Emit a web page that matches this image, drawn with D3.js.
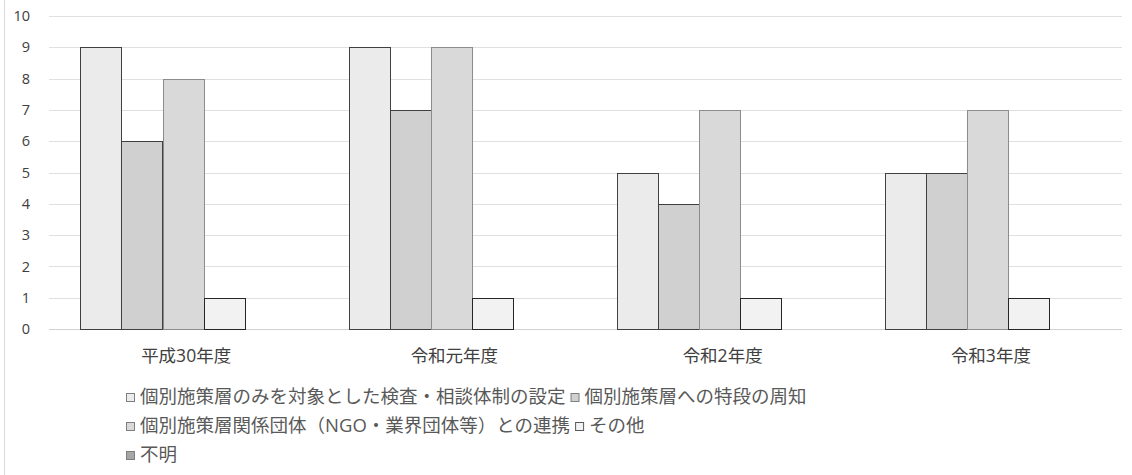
<!DOCTYPE html>
<html><head><meta charset="utf-8">
<script src="https://cdn.jsdelivr.net/npm/d3@7"></script>
<style>body{margin:0;background:#fff;} text{font-family:"Open Sans","Noto Sans CJK JP",sans-serif;}</style>
</head><body><svg id="c" width="1132" height="475"></svg>
<script>
const categories = ["平成30年度","令和元年度","令和2年度","令和3年度"];
const seriesNames = ["個別施策層のみを対象とした検査・相談体制の設定","個別施策層への特段の周知","個別施策層関係団体（NGO・業界団体等）との連携","その他","不明"];
const s1 = [9,9,5,5];
const s2 = [6,7,4,5];
const s3 = [8,9,7,7];
const s4 = [1,1,1,1];
const s5 = [0,0,0,0];
const yTicks = [0,1,2,3,4,5,6,7,8,9,10];
const fills = ["#ebebeb","#d0d0d0","#d9d9d9","#f2f2f2","#a6a6a6"];
const strokes = ["#404040","#404040","#8c8c8c","#262626","#595959"];
const series = [s1,s2,s3,s4,s5];

const svg = d3.select("#c");
svg.append("line").attr("x1",4.5).attr("x2",4.5).attr("y1",0).attr("y2",475).attr("stroke","#d9d9d9").attr("stroke-width",1);
const x0 = d3.scaleBand().domain(categories).range([49,1122]).paddingInner(0).paddingOuter(0);
const x1 = d3.scaleBand().domain(d3.range(5)).range([0,x0.bandwidth()]).paddingOuter(0.76).paddingInner(0);
const y = d3.scaleLinear().domain([0,10]).range([329,16]);

const grid = svg.append("g");
yTicks.forEach(t=>{
  grid.append("line").attr("x1",49).attr("x2",1122).attr("y1",Math.round(y(t))+0.5).attr("y2",Math.round(y(t))+0.5)
    .attr("stroke",t===0?"#d0d0d0":"#e0e0e0").attr("stroke-width",1);
});
const yAxis = d3.axisLeft(y).tickValues(yTicks).tickSize(0).tickPadding(0);
const ya = svg.append("g").attr("transform","translate(30,0)").call(yAxis);
ya.select(".domain").remove();
ya.selectAll("text").attr("fill","#404040").attr("font-size",14.5).attr("font-family","'Open Sans',sans-serif");

const g = svg.append("g");
categories.forEach((c,i)=>{
  series.forEach((s,j)=>{
    if (s[i] <= 0) return;
    g.append("rect")
      .attr("x",Math.round(x0(c)+x1(j))+0.5)
      .attr("y",Math.round(y(s[i]))+0.5)
      .attr("width",Math.round(x1.bandwidth()))
      .attr("height",Math.round(y(0))-Math.round(y(s[i])))
      .attr("fill",fills[j]).attr("stroke",strokes[j]).attr("stroke-width",1);
  });
});
const xAxis = d3.axisBottom(x0).tickSize(0).tickPadding(0);
const xa = svg.append("g").attr("transform","translate(3,356)").call(xAxis);
xa.select(".domain").remove();
xa.selectAll("text").attr("fill","#404040").attr("font-size",17.5).attr("dy","0.35em");

// legend
const rows = [[0,1],[2,3],[4]];
const leg = svg.append("g");
rows.forEach((r,ri)=>{
  let xx = 126;
  const yy = 397 + ri*29;
  r.forEach(j=>{
    leg.append("rect").attr("x",xx+0.5).attr("y",yy-3.5).attr("width",8).attr("height",8)
      .attr("fill",fills[j]).attr("stroke",strokes[j]==="#262626"?"#595959":"#7f7f7f");
    const t = leg.append("text").attr("x",xx+14).attr("y",yy).attr("dy","0.35em")
      .attr("font-size",18.5).attr("fill","#595959").text(seriesNames[j]);
    xx += 14 + t.node().getComputedTextLength() + 5;
  });
});
</script></body></html>
